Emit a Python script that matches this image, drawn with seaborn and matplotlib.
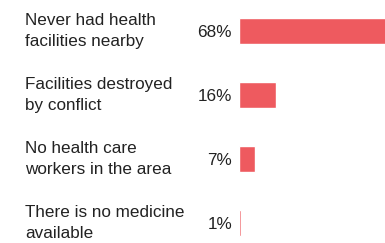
import numpy as np
import pandas as pd
import seaborn as sns
import matplotlib.pyplot as plt

reasons = ["Never had health\nfacilities nearby",
           "Facilities destroyed\nby conflict",
           "No health care\nworkers in the area",
           "There is no medicine\navailable"]
shares = [68, 16, 7, 1]
share_labels = ["68%", "16%", "7%", "1%"]

df = pd.DataFrame({"reason": reasons, "share": shares})

sns.set_theme(style="white")
plt.rcParams['font.family'] = ['Liberation Sans', 'DejaVu Sans']

fig = plt.figure(figsize=(3.85, 2.43), dpi=100)
ax = fig.add_axes([239 / 385, 0, 1 - 239 / 385, 1])

sns.barplot(data=df, x="share", y="reason", color="#ee5a5f", saturation=1,
            width=0.41, ax=ax)

ax.set_xlim(0, 63.2)
ax.set_ylim(3.31, -0.484)
sns.despine(ax=ax, left=True, bottom=True)
ax.set_xticks([])
ax.set_xlabel("")
ax.set_ylabel("")

# percentages sit where the tick labels go
ax.set_yticks(range(len(shares)))
ax.set_yticklabels(share_labels, fontsize=12.3, color="#222222")
ax.tick_params(axis="y", length=0, pad=5)

# category text on the far left
trans = ax.get_yaxis_transform()
for i, r in enumerate(reasons):
    ax.text(-214 / 146, i, r, transform=trans, ha="left", va="center",
            fontsize=12.3, color="#222222", linespacing=1.55, clip_on=False)

fig.savefig("out.png", dpi=100)
